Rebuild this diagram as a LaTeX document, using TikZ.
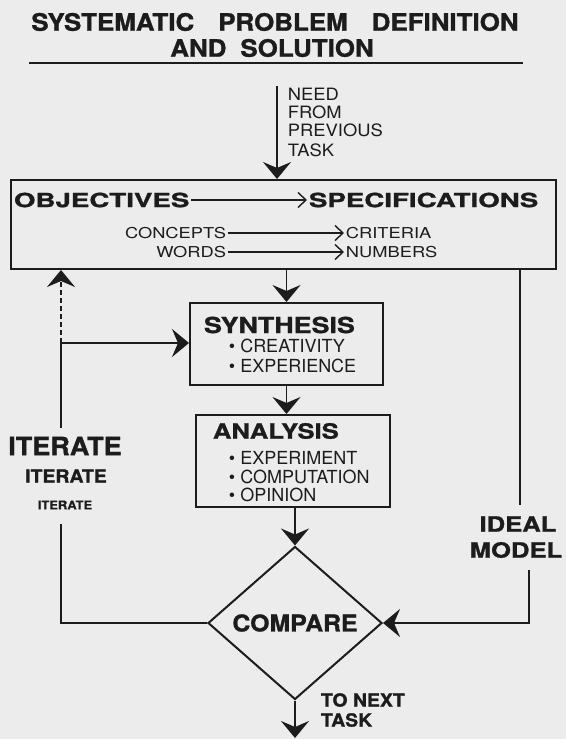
\documentclass[tikz,border=0pt]{standalone}
\usepackage{fontspec}
\setmainfont{TeX Gyre Heros}
\newfontfamily\hvA[FakeStretch=1.08, BoldFeatures={FakeBold=1.2}]{TeX Gyre Heros}
\newfontfamily\hvB[FakeStretch=1.42, BoldFeatures={FakeBold=1.2}]{TeX Gyre Heros}
\newfontfamily\hvC[FakeStretch=1.22, BoldFeatures={FakeBold=1.2}]{TeX Gyre Heros}
\usetikzlibrary{shapes.geometric,arrows.meta,positioning,calc}
\definecolor{ink}{RGB}{28,28,28}
\definecolor{paper}{RGB}{236,236,236}

\begin{document}
\begin{tikzpicture}[x=1pt, y=-1pt, line width=1.9pt, draw=ink,
    every node/.style={inner sep=0pt, text=ink},
    box/.style={draw, rectangle, line width=2pt},
    arr/.style={-{Stealth[length=17pt,width=28pt,inset=6pt]}},
    barb/.style={line width=1.4pt, shorten <=1pt, shorten >=1pt,
      -{Straight Barb[length=8pt,width=15pt]}}]
    % Page and frame: 566 x 739 units, y counted downwards
    \fill[paper] (0,0) rectangle (566,739);
    \useasboundingbox (0,0) rectangle (566,739);
    % Title
    \node[font=\hvA\bfseries\fontsize{24}{27}\selectfont] (title1) at (275,22)
      {SYSTEMATIC\hspace{24pt}PROBLEM\hspace{24pt}DEFINITION};
    \node[font=\hvA\bfseries\fontsize{24}{27}\selectfont] (title2) at (272,48)
      {AND\hspace{14pt}SOLUTION};
    \draw (29,63) -- (523,63);
    % Need from previous task
    \node[anchor=west, font=\hvA\fontsize{17}{19}\selectfont] (need1) at (287,94) {NEED};
    \node[anchor=west, font=\hvA\fontsize{17}{19}\selectfont] (need2) at (287,112) {FROM};
    \node[anchor=west, font=\hvA\fontsize{17}{19}\selectfont] (need3) at (287,130) {PREVIOUS};
    \node[anchor=west, font=\hvA\fontsize{17}{19}\selectfont] (need4) at (287,150) {TASK};
    % Objectives -> specifications
    \node[box, minimum width=545pt, minimum height=89pt] (objbox) at (283.5,224.5) {};
    \node[anchor=west, font=\hvB\bfseries\fontsize{19.5}{22}\selectfont] (objectives) at (13,200) {OBJECTIVES};
    \node[anchor=west, font=\hvB\bfseries\fontsize{19.5}{22}\selectfont] (specs) at (308,200) {SPECIFICATIONS};
    \node[anchor=east, font=\hvC\fontsize{15}{17}\selectfont] (concepts) at (227,233) {CONCEPTS};
    \node[anchor=east, font=\hvC\fontsize{15}{17}\selectfont] (words) at (227,252) {WORDS};
    \node[anchor=west, font=\hvC\fontsize{15}{17}\selectfont] (criteria) at (345,233) {CRITERIA};
    \node[anchor=west, font=\hvC\fontsize{15}{17}\selectfont] (numbers) at (345,252) {NUMBERS};
    % Synthesis
    \node[box, minimum width=193pt, minimum height=82pt] (synth) at (286.5,344) {};
    \node[anchor=west, font=\hvC\bfseries\fontsize{22}{26}\selectfont] (synthtitle) at (203,325) {SYNTHESIS};
    \node[anchor=west, font=\fontsize{18}{20}\selectfont] (creativity) at (228,346) {\textbullet\ CREATIVITY};
    \node[anchor=west, font=\fontsize{18}{20}\selectfont] (experience) at (228,366) {\textbullet\ EXPERIENCE};
    % Analysis
    \node[box, minimum width=194pt, minimum height=92pt] (analysis) at (293,461) {};
    \node[anchor=west, font=\hvC\bfseries\fontsize{21}{25}\selectfont] (analysistitle) at (212,431) {ANALYSIS};
    \node[anchor=west, font=\fontsize{18}{20}\selectfont] (experiment) at (228,458) {\textbullet\ EXPERIMENT};
    \node[anchor=west, font=\fontsize{18}{20}\selectfont] (computation) at (228,477) {\textbullet\ COMPUTATION};
    \node[anchor=west, font=\fontsize{18}{20}\selectfont] (opinion) at (228,495) {\textbullet\ OPINION};
    % Compare
    \node[draw, diamond, line width=2pt, minimum width=174pt, minimum height=153pt,
      font=\hvA\bfseries\fontsize{23}{26}\selectfont] (compare) at (295,623) {COMPARE};
    % Side labels
    \node[font=\hvA\bfseries\fontsize{25}{28}\selectfont] (iterate1) at (65,446) {ITERATE};
    \node[font=\hvA\bfseries\fontsize{18}{20}\selectfont] (iterate2) at (66,476) {ITERATE};
    \node[font=\hvA\bfseries\fontsize{12}{14}\selectfont] (iterate3) at (65,505) {ITERATE};
    \node[font=\hvC\bfseries\fontsize{21}{24}\selectfont] (ideal) at (518,524) {IDEAL};
    \node[font=\hvC\bfseries\fontsize{21}{24}\selectfont] (model) at (516,550) {MODEL};
    \node[anchor=west, font=\hvA\bfseries\fontsize{18}{20}\selectfont] (tonext) at (320,700) {TO NEXT};
    \node[anchor=west, font=\hvA\bfseries\fontsize{18}{20}\selectfont] (totask) at (320,720) {TASK};
    % Connectors
    \coordinate (need) at (277,86);
    \coordinate (nexttask) at (295,738);
    \coordinate (iterlow) at (61,524);
    \coordinate (iterhigh) at (61,428);
    \coordinate (branch) at (61,343);
    \coordinate (idealend) at (520,505);
    \coordinate (modelend) at (529,570);
    \draw[arr] (need) -- (need |- objbox.north);
    \draw[barb] (objectives) -- (specs);
    \draw[barb] (concepts) -- (criteria);
    \draw[barb] (words) -- (numbers);
    \draw[arr] (synth.north |- objbox.south) -- (synth.north);
    \draw[arr] (synth.south) -- (synth.south |- analysis.north);
    \draw[arr] (compare.north |- analysis.south) -- (compare.north);
    \draw[arr] (compare.south) -- (nexttask);
    \draw (compare.west) -| (iterlow);
    \draw (iterhigh) -- (branch);
    \draw[arr] (branch) -- (branch -| synth.west);
    \draw[arr, dash pattern=on 5pt off 3pt] (branch) -- (branch |- objbox.south);
    \draw (objbox.south -| idealend) -- (idealend);
    \draw[arr] (modelend) |- (compare.east);
\end{tikzpicture}
\end{document}
